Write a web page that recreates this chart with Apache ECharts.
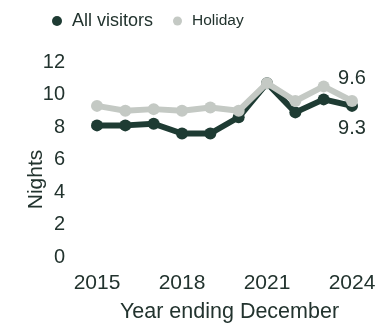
<!DOCTYPE html>
<html>
<head>
<meta charset="utf-8">
<style>
  html, body { margin: 0; padding: 0; background: #ffffff; }
  #chart { width: 379px; height: 323px; }
</style>
<script src="https://cdn.jsdelivr.net/npm/echarts@6/dist/echarts.min.js"></script>
</head>
<body>
<div id="chart"></div>
<script>
// Average nights per visit, year ending December
const years = ['2015', '2016', '2017', '2018', '2019', '2020', '2021', '2022', '2023', '2024'];
const allVisitors = [8.1, 8.1, 8.2, 7.6, 7.6, 8.6, 10.7, 8.9, 9.7, 9.3];
const holiday = [9.3, 9.0, 9.1, 9.0, 9.2, 9.0, 10.7, 9.6, 10.5, 9.6];
const yTicks = [0, 2, 4, 6, 8, 10, 12];

const DARK = '#1e3b33';
const LIGHT = '#c4c9c4';
const TEXT = '#22332e';
const FONT = '"Liberation Sans", Arial, sans-serif';

const chart = echarts.init(document.getElementById('chart'));

function endLabel(position) {
  return {
    show: true,
    position: position,
    distance: 7,
    color: TEXT,
    fontFamily: FONT,
    fontSize: 20,
    formatter: p => (p.dataIndex === years.length - 1 ? p.value.toFixed(1) : '')
  };
}

chart.setOption({
  animation: false,
  textStyle: { fontFamily: FONT },
  legend: [
    {
      top: 7,
      left: 47,
      itemWidth: 10,
      itemHeight: 10,
      icon: 'circle',
      data: ['All visitors'],
      textStyle: { fontSize: 18, color: TEXT, padding: [0, 0, 0, 5] }
    },
    {
      top: 8,
      left: 168,
      itemWidth: 9,
      itemHeight: 9,
      icon: 'circle',
      data: ['Holiday'],
      textStyle: { fontSize: 15.5, color: TEXT, padding: [0, 0, 0, 5] }
    }
  ],
  grid: { left: 97, right: 27, top: 62, bottom: 66, outerBoundsMode: 'none', containLabel: false },
  xAxis: {
    type: 'category',
    data: years,
    boundaryGap: false,
    name: 'Year ending December',
    nameLocation: 'middle',
    nameGap: 44,
    nameMoveOverlap: false,
    nameTextStyle: { color: TEXT, fontSize: 21.5, fontFamily: FONT, padding: [0, 0, 0, 10] },
    axisLine: { show: false },
    axisTick: { show: false },
    axisLabel: { interval: 2, color: TEXT, fontSize: 21, margin: 16 }
  },
  yAxis: {
    type: 'value',
    min: yTicks[0],
    max: yTicks[yTicks.length - 1],
    interval: 2,
    name: 'Nights',
    nameLocation: 'middle',
    nameGap: 50,
    nameMoveOverlap: false,
    nameTextStyle: { color: TEXT, fontSize: 21, fontFamily: FONT, padding: [0, 40, 0, 0] },
    axisLine: { show: false },
    axisTick: { show: false },
    splitLine: { show: false },
    axisLabel: { color: TEXT, fontSize: 20, margin: 32 }
  },
  series: [
    {
      name: 'All visitors',
      type: 'line',
      data: allVisitors,
      color: DARK,
      symbol: 'circle',
      symbolSize: 12,
      lineStyle: { width: 6, color: DARK },
      itemStyle: { color: DARK },
      label: endLabel('bottom'),
      z: 2
    },
    {
      name: 'Holiday',
      type: 'line',
      data: holiday,
      color: LIGHT,
      symbol: 'circle',
      symbolSize: 12,
      lineStyle: { width: 6, color: LIGHT },
      itemStyle: { color: LIGHT },
      label: endLabel('top'),
      z: 3
    }
  ]
});
</script>
</body>
</html>
